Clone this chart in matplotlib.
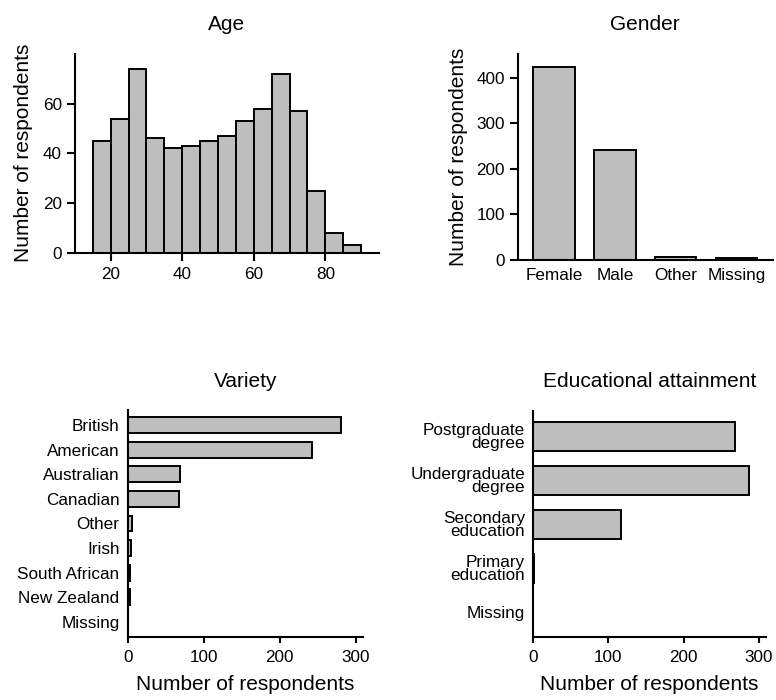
import numpy as np
import matplotlib
matplotlib.use("Agg")
import matplotlib.pyplot as plt

plt.rcParams["font.family"] = ["Liberation Sans", "DejaVu Sans"]

# data
age_edges = [15, 20, 25, 30, 35, 40, 45, 50, 55, 60, 65, 70, 75, 80, 85, 90]
age_counts = [45, 54, 74, 46, 42, 43, 45, 47, 53, 58, 72, 57, 25, 8, 3]

gender_labels = ["Female", "Male", "Other", "Missing"]
gender_counts = [423, 241, 7, 4]

variety_labels = ["British", "American", "Australian", "Canadian", "Other",
                  "Irish", "South African", "New Zealand", "Missing"]
variety_counts = [280, 242, 69, 67, 6, 4, 3, 3, 1]

edu_labels = ["Postgraduate\ndegree", "Undergraduate\ndegree", "Secondary\neducation",
              "Primary\neducation", "Missing"]
edu_counts = [268, 287, 117, 2, 1]

FILL = "#bebebe"
EDGE = "black"
LW = 1.4
TITLE_FS = 15
LABEL_FS = 15
TICK_FS = 12.3
YLAB = "Number of respondents"

fig = plt.figure(figsize=(7.76, 7.0), dpi=100)

def style(ax):
    for s in ("top", "right"):
        ax.spines[s].set_visible(False)
    for s in ("left", "bottom"):
        ax.spines[s].set_linewidth(1.5)
    ax.tick_params(width=1.5, labelsize=TICK_FS, colors="black")

# Age
ax1 = fig.add_axes([0.0966, 0.639, 0.3918, 0.284])
widths = np.diff(age_edges)
ax1.bar(age_edges[:-1], age_counts, width=widths, align="edge",
        color=FILL, edgecolor=EDGE, linewidth=LW)
ax1.set_xlim(10, 95)
ax1.set_ylim(0, 80)
ax1.set_xticks([20, 40, 60, 80])
ax1.set_yticks([0, 20, 40, 60])
style(ax1)
ax1.tick_params(length=5.5)
ax1.tick_params(axis="x", pad=4.5)
ax1.tick_params(axis="y", pad=4)
ax1.set_title("Age", fontsize=TITLE_FS, pad=17)
ax1.set_ylabel(YLAB, fontsize=LABEL_FS, labelpad=7)

# Gender
ax2 = fig.add_axes([0.667, 0.6286, 0.329, 0.2944])
xg = np.arange(len(gender_labels))
ax2.bar(xg, gender_counts, width=0.68, color=FILL, edgecolor=EDGE, linewidth=LW)
ax2.set_xlim(-0.6, 3.6)
ax2.set_ylim(0, 452)
ax2.set_xticks(xg)
ax2.set_xticklabels(gender_labels)
ax2.set_yticks([0, 100, 200, 300, 400])
style(ax2)
ax2.tick_params(axis="y", length=5.5, pad=3.5)
ax2.tick_params(axis="x", length=0, pad=6)
ax2.set_title("Gender", fontsize=TITLE_FS, pad=17)
ax2.set_ylabel(YLAB, fontsize=LABEL_FS, labelpad=6)

# Variety
ax3 = fig.add_axes([0.1646, 0.0896, 0.3036, 0.3244])
yv = np.arange(len(variety_labels))
ax3.barh(yv, variety_counts, height=0.65, color=FILL, edgecolor=EDGE, linewidth=LW)
ax3.set_ylim(len(variety_labels) - 1 + 0.64, -0.62)
ax3.set_xlim(0, 310)
ax3.set_yticks(yv)
ax3.set_yticklabels(variety_labels)
ax3.set_xticks([0, 100, 200, 300])
style(ax3)
ax3.tick_params(axis="y", length=0, pad=6)
ax3.tick_params(axis="x", length=4, pad=5)
ax3.set_title("Variety", fontsize=TITLE_FS, pad=17)
ax3.set_xlabel(YLAB, fontsize=LABEL_FS, labelpad=7)

# Educational attainment
ax4 = fig.add_axes([0.6865, 0.0896, 0.3005, 0.3237])
ye = np.arange(len(edu_labels))
ax4.barh(ye, edu_counts, height=0.66, color=FILL, edgecolor=EDGE, linewidth=LW)
ax4.set_ylim(len(edu_labels) - 1 + 0.57, -0.59)
ax4.set_xlim(0, 309)
ax4.set_yticks(ye)
ax4.set_yticklabels(edu_labels, linespacing=0.85)
ax4.set_xticks([0, 100, 200, 300])
style(ax4)
ax4.tick_params(axis="y", length=0, pad=5.5)
ax4.tick_params(axis="x", length=4, pad=5)
ax4.set_title("Educational attainment", fontsize=TITLE_FS, pad=17)
ax4.set_xlabel(YLAB, fontsize=LABEL_FS, labelpad=7)

fig.savefig("out.png", dpi=100)
